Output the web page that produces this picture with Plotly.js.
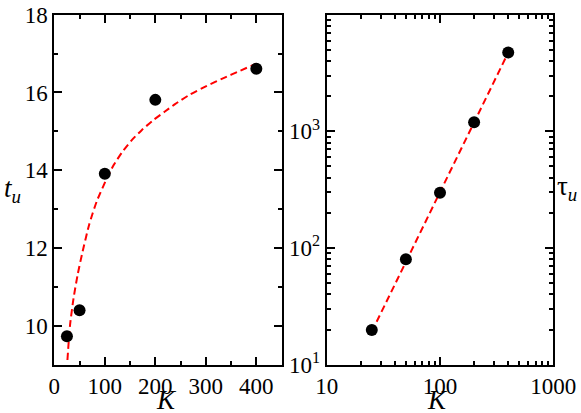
<!DOCTYPE html>
<html>
<head>
<meta charset="utf-8">
<script src="https://cdn.plot.ly/plotly-3.0.1.min.js"></script>
<style>
  html, body { margin: 0; padding: 0; background: #fff; }
  #plot { width: 581px; height: 413px; }
</style>
</head>
<body>
<div id="plot"></div>
<script>
// measured points (both panels share K)
const K = [25, 50, 100, 200, 400];
const tU = [9.73, 10.4, 13.91, 15.81, 16.61];
const tauU = [19.8, 80, 298, 1195, 4750];

// dashed fit curve on the left panel
const fitK = [26, 31, 38, 46, 55, 69, 84, 104, 117, 134, 153, 173, 196, 219, 239, 269, 302, 335, 368, 400];
const fitT = [9.12, 10.0, 10.7, 11.3, 11.85, 12.6, 13.2, 13.79, 14.12, 14.46, 14.77, 15.03, 15.29, 15.51, 15.70, 15.95, 16.17, 16.37, 16.56, 16.74];

// dashed power-law line on the right panel
const fitK2 = [25, 390];
const fitTau = [19.2, 4500];

// log axis ticks
const logXTicks = [10, 100, 1000];
const logXText = ["10", "100", "1000"];
const logYTicks = [10, 100, 1000, 10000];
const logYText = ["10<sup>1</sup>", "10<sup>2</sup>", "10<sup>3</sup>", "10<sup>4</sup>"];

function decadeMinors(lo, hi) {
    const out = [];
    for (let d = lo; d < hi; d *= 10)
        for (let m = 2; m <= 9; m++) out.push(m * d);
    return out;
}

const FONT = "'Liberation Serif', 'Times New Roman', serif";
const W = 581, H = 413;
const px = v => v / W;
const py = v => 1 - v / H;

const minorTicks = { ticks: "inside", ticklen: 4, tickwidth: 2, tickcolor: "black" };

const axisBase = {
    showline: true,
    linecolor: "black",
    linewidth: 2,
    mirror: "allticks",
    ticks: "inside",
    ticklen: 8,
    tickwidth: 2,
    tickcolor: "black",
    showgrid: false,
    zeroline: false,
    tickfont: { family: FONT, size: 23, color: "black" }
};

const data = [
    { x: fitK, y: fitT, xaxis: "x", yaxis: "y", mode: "lines",
      line: { color: "#ff0000", width: 2, dash: "7px,4px", shape: "spline", smoothing: 0.6 },
      hoverinfo: "skip" },
    { x: K, y: tU, xaxis: "x", yaxis: "y", mode: "markers",
      marker: { color: "black", size: 12 } },
    { x: fitK2, y: fitTau, xaxis: "x2", yaxis: "y2", mode: "lines",
      line: { color: "#ff0000", width: 2, dash: "7px,4px" }, hoverinfo: "skip" },
    { x: K, y: tauU, xaxis: "x2", yaxis: "y2", mode: "markers",
      marker: { color: "black", size: 12 } }
];

function label(text, x, y) {
    return { text: text, xref: "paper", yref: "paper", x: px(x), y: py(y),
             xanchor: "center", yanchor: "middle", showarrow: false,
             font: { family: FONT, size: 27, color: "black" } };
}

const layout = {
    width: W,
    height: H,
    showlegend: false,
    paper_bgcolor: "white",
    plot_bgcolor: "white",
    margin: { l: 0, r: 0, t: 0, b: 0 },
    xaxis: Object.assign({}, axisBase, {
        domain: [px(54.3), px(281.6)],
        range: [0, 450],
        tickmode: "array",
        tickvals: [0, 100, 200, 300, 400],
        minor: Object.assign({ tickmode: "array", tickvals: [50, 150, 250, 350, 450] }, minorTicks),
        anchor: "y"
    }),
    yaxis: Object.assign({}, axisBase, {
        domain: [py(364.7), py(14.7)],
        range: [9, 18],
        tickmode: "array",
        tickvals: [10, 12, 14, 16, 18],
        minor: Object.assign({ tickmode: "array", tickvals: [9, 11, 13, 15, 17] }, minorTicks),
        anchor: "x"
    }),
    xaxis2: Object.assign({}, axisBase, {
        domain: [px(326.7), px(553.3)],
        type: "log",
        range: [1, 3],
        tickmode: "array",
        tickvals: logXTicks,
        ticktext: logXText,
        minor: Object.assign({ tickmode: "array", tickvals: decadeMinors(10, 1000) }, minorTicks),
        anchor: "y2"
    }),
    yaxis2: Object.assign({}, axisBase, {
        domain: [py(364.7), py(14.7)],
        type: "log",
        range: [1, 4],
        tickmode: "array",
        tickvals: logYTicks,
        ticktext: logYText,
        minor: Object.assign({ tickmode: "array", tickvals: decadeMinors(10, 10000) }, minorTicks),
        anchor: "x2"
    }),
    annotations: [
        label("<i>K</i>", 166, 400),
        label("<i>K</i>", 437, 400),
        label("<i>t</i><sub><i>u</i></sub>", 12, 190),
        label("τ<sub><i>u</i></sub>", 567, 188)
    ]
};

Plotly.newPlot("plot", data, layout, { staticPlot: true });
</script>
</body>
</html>
